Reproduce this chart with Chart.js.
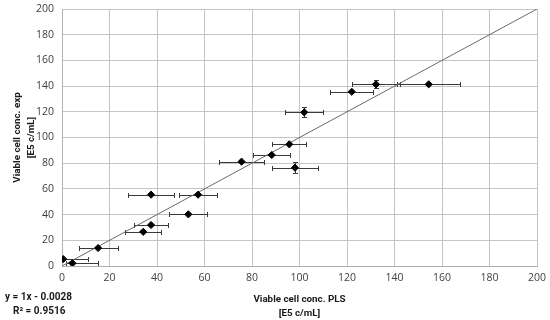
<!DOCTYPE html>
<html>
<head>
<meta charset="utf-8">
<script src="https://cdn.jsdelivr.net/npm/chart.js@4/dist/chart.umd.min.js"></script>
<style>
  html, body { margin: 0; padding: 0; background: #fff; }
  #wrap { position: relative; width: 550px; height: 320px; }
  #eq { position: absolute; left: 5px; top: 290px; font: bold 10px Roboto, "Open Sans", sans-serif; color: #1a1a1a; line-height: 14px; }
  #eq div:nth-child(2) { padding-left: 8px; }
</style>
</head>
<body>
<div id="wrap">
  <canvas id="c" width="550" height="320"></canvas>
  <div id="eq"><div>y = 1x - 0.0028</div><div>R² = 0.9516</div></div>
</div>
<script>
// Data
const xPLS      = [0.5, 4.4, 15.2, 34.2, 37.5, 37.5, 57.3, 53.2, 75.6, 88.3, 95.7, 98.1, 102.0, 122.0, 132.2, 154.4];
const yExp      = [5.4, 2.1, 14.0, 26.6, 31.9, 55.5, 55.5, 40.2, 81.2, 86.4, 94.7, 76.5, 119.6, 135.6, 141.4, 141.4];
const xErrMinus = [10.5, 2.8, 8.2, 7.6, 7.2, 9.7, 7.9, 8.0, 9.5, 7.8, 7.2, 9.5, 7.9, 9.1, 10.0, 13.2];
const xErrPlus  = [10.5, 10.8, 8.2, 7.6, 7.2, 9.7, 7.9, 8.0, 9.5, 7.8, 7.2, 9.5, 7.9, 9.1, 10.0, 13.2];
const yErr      = [0, 0, 0, 0, 0, 0, 0, 0, 0, 0, 0, 4.5, 4.0, 0, 3.0, 0];
const trendSlope = 1;
const trendIntercept = -0.0028;
const axisMin = 0, axisMax = 200, tickStep = 20;

const TICKFONT = '"Open Sans", sans-serif';
const TITLEFONT = 'Roboto, "Open Sans", sans-serif';

const points = xPLS.map((x, i) => ({ x: x, y: yExp[i] }));
const trend = [axisMin, axisMax].map(x => ({ x: x, y: trendSlope * x + trendIntercept }));

const errorBars = {
  id: 'errorBars',
  beforeDatasetsDraw(chart) {
    const { ctx, chartArea, scales } = chart;
    const xs = scales.x, ys = scales.y;
    ctx.save();
    ctx.beginPath();
    ctx.rect(chartArea.left, chartArea.top, chartArea.right - chartArea.left, chartArea.bottom - chartArea.top);
    ctx.clip();
    ctx.strokeStyle = '#3a3a3a';
    ctx.lineWidth = 1;
    const cap = 2.5;
    xPLS.forEach((x, i) => {
      const py = Math.round(ys.getPixelForValue(yExp[i])) + 0.5;
      const px = xs.getPixelForValue(x);
      const x1 = Math.round(xs.getPixelForValue(x - xErrMinus[i])) + 0.5;
      const x2 = Math.round(xs.getPixelForValue(x + xErrPlus[i])) + 0.5;
      ctx.beginPath();
      ctx.moveTo(x1, py); ctx.lineTo(x2, py);
      ctx.moveTo(x1, py - cap); ctx.lineTo(x1, py + cap);
      ctx.moveTo(x2, py - cap); ctx.lineTo(x2, py + cap);
      ctx.stroke();
      if (yErr[i] > 0) {
        const cx = Math.round(px) + 0.5;
        const y1 = Math.round(ys.getPixelForValue(yExp[i] - yErr[i])) + 0.5;
        const y2 = Math.round(ys.getPixelForValue(yExp[i] + yErr[i])) + 0.5;
        ctx.beginPath();
        ctx.moveTo(cx, y1); ctx.lineTo(cx, y2);
        ctx.moveTo(cx - cap, y1); ctx.lineTo(cx + cap, y1);
        ctx.moveTo(cx - cap, y2); ctx.lineTo(cx + cap, y2);
        ctx.stroke();
      }
    });
    ctx.restore();
  }
};

new Chart(document.getElementById('c'), {
  type: 'scatter',
  data: {
    datasets: [
      {
        label: 'Viable cell conc.',
        data: points,
        pointStyle: 'rectRot',
        pointRadius: 3.6,
        pointHoverRadius: 3.6,
        backgroundColor: '#000',
        borderColor: '#000',
        borderWidth: 1,
        order: 1
      },
      {
        type: 'line',
        label: 'Linear trend',
        data: trend,
        borderColor: '#6a6a6a',
        borderWidth: 1,
        pointRadius: 0,
        fill: false,
        order: 2
      }
    ]
  },
  plugins: [errorBars],
  options: {
    responsive: false,
    animation: false,
    devicePixelRatio: 1,
    layout: { padding: { top: 9, right: 13, left: 0, bottom: 0 } },
    plugins: { legend: { display: false }, tooltip: { enabled: false } },
    scales: {
      x: {
        type: 'linear',
        min: axisMin, max: axisMax,
        ticks: { stepSize: tickStep, color: '#404040', font: { family: TICKFONT, size: 10.5 }, padding: 6 },
        grid: { color: '#c4c4c4', drawTicks: false, lineWidth: 1 },
        border: { color: '#b0b0b0' },
        title: {
          display: true,
          text: ['Viable cell conc. PLS', '[E5 c/mL]'],
          color: '#1a1a1a',
          font: { family: TITLEFONT, size: 9.8, weight: 'bold', lineHeight: 1.4 },
          padding: { top: -2, bottom: 0 }
        },
        afterFit(s) { s.height = 54; s.paddingLeft = 0; s.paddingRight = 0; }
      },
      y: {
        type: 'linear',
        min: axisMin, max: axisMax,
        ticks: { stepSize: tickStep, color: '#404040', font: { family: TICKFONT, size: 10.5 }, padding: 8 },
        grid: { color: '#c4c4c4', drawTicks: false, lineWidth: 1 },
        border: { color: '#b0b0b0' },
        title: {
          display: true,
          text: ['Viable cell conc. exp', '[E5 c/mL]'],
          color: '#1a1a1a',
          font: { family: TITLEFONT, size: 9.8, weight: 'bold', lineHeight: 1.5 },
          padding: { top: 10, bottom: 0 }
        },
        afterFit(s) { s.width = 62; s.paddingTop = 0; s.paddingBottom = 0; }
      }
    }
  }
});
</script>
</body>
</html>
